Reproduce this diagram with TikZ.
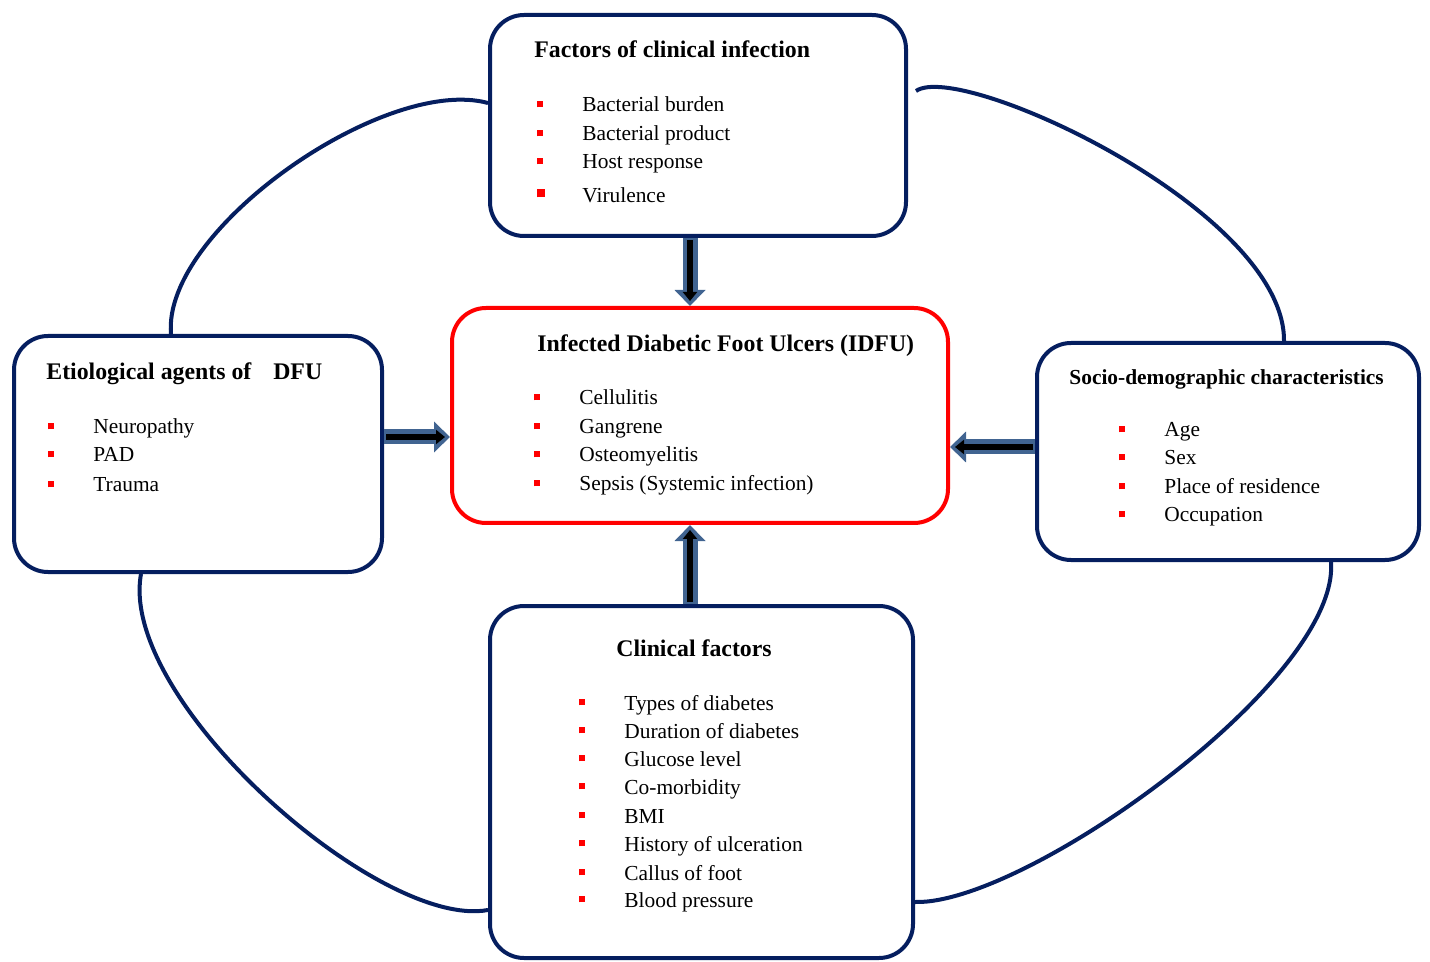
\documentclass[tikz,border=0pt]{standalone}
\usepackage{fontspec}
\setmainfont{Liberation Serif}
\usepackage{xcolor}
\usepackage{tikz}
\usetikzlibrary{positioning, arrows.meta, calc}

\definecolor{navy}{RGB}{5,30,95}
\definecolor{bulred}{RGB}{255,0,0}
\definecolor{arrowblue}{RGB}{65,100,145}

\newcommand{\redsq}{\makebox[22.5pt][l]{\textcolor{bulred}{\rule[2.3pt]{3pt}{3pt}}}}

\begin{document}
\begin{tikzpicture}[
    x=0.5pt, y=-0.5pt,
    box/.style={
        rectangle,
        rounded corners=17pt,
        draw=navy,
        line width=2pt
    },
    redbox/.style={
        box,
        draw=bulred
    },
    ttl/.style={
        anchor=base west,
        inner sep=0pt,
        font=\fontsize{11.9}{14}\selectfont\bfseries
    },
    itm/.style={
        anchor=base west,
        inner sep=0pt,
        font=\fontsize{10.7}{13}\selectfont
    },
    link/.style={
        draw=navy,
        line width=2pt
    },
    fatarrow/.style={
        draw=arrowblue,
        line width=7.5pt,
        -{Triangle[width=15pt,length=8pt]},
        postaction={draw=black, line width=3.2pt,
            -{Triangle[width=7pt,length=4.5pt]}, shorten >=2.5pt, shorten <=1pt}
    }
]
\useasboundingbox (0,0) rectangle (1430,962);

% Boxes

\node[box, minimum width=208pt, minimum height=110.5pt] (infect) at (698,125.5) {};
\node[redbox, minimum width=248pt, minimum height=107.5pt] (idfu) at (700,415.5) {};
\node[box, minimum width=184pt, minimum height=118pt] (etio) at (198,454) {};
\node[box, minimum width=191pt, minimum height=108.5pt] (socio) at (1228,451.5) {};
\node[box, minimum width=211.5pt, minimum height=176pt] (clin) at (701.5,782) {};

% Factors of clinical infection

\node[ttl] (infectT) at (534,58) {Factors of clinical infection};
\node[itm] (infect1) at (537,112) {\redsq Bacterial burden};
\node[itm] (infect2) at (537,141) {\redsq Bacterial product};
\node[itm] (infect3) at (537,169) {\redsq Host response};
\node[itm] (infect4) at (537,203) {\makebox[22.5pt][l]{\textcolor{bulred}{\rule[2.8pt]{4pt}{4pt}}}Virulence};

% Infected Diabetic Foot Ulcers

\node[ttl] (idfuT) at (537,352) {Infected Diabetic Foot Ulcers (IDFU)};
\node[itm] (idfu1) at (534,405) {\redsq Cellulitis};
\node[itm] (idfu2) at (534,434) {\redsq Gangrene};
\node[itm] (idfu3) at (534,462) {\redsq Osteomyelitis};
\node[itm] (idfu4) at (534,491) {\redsq Sepsis (Systemic infection)};

% Etiological agents

\node[ttl] (etioT) at (46,380) {Etiological agents of\hspace{8pt} DFU};
\node[itm] (etio1) at (48,434) {\redsq Neuropathy};
\node[itm] (etio2) at (48,462) {\redsq PAD};
\node[itm] (etio3) at (48,492) {\redsq Trauma};

% Socio-demographic characteristics

\node[ttl, font=\fontsize{10.7}{13}\selectfont\bfseries] (socioT) at (1069,385) {Socio-demographic characteristics};
\node[itm] (socio1) at (1119,437) {\redsq Age};
\node[itm] (socio2) at (1119,465) {\redsq Sex};
\node[itm] (socio3) at (1119,494) {\redsq Place of residence};
\node[itm] (socio4) at (1119,522) {\redsq Occupation};

% Clinical factors

\node[ttl, anchor=base] (clinT) at (694,656) {Clinical factors};
\node[itm] (clin1) at (579,710) {\redsq Types of diabetes};
\node[itm] (clin2) at (579,738) {\redsq Duration of diabetes};
\node[itm] (clin3) at (579,766) {\redsq Glucose level};
\node[itm] (clin4) at (579,794) {\redsq Co-morbidity};
\node[itm] (clin5) at (579,823) {\redsq BMI};
\node[itm] (clin6) at (579,851) {\redsq History of ulceration};
\node[itm] (clin7) at (579,880) {\redsq Callus of foot};
\node[itm] (clin8) at (579,907) {\redsq Blood pressure};

% Outer links

\draw[link] ($(etio.north)+(-27,0)$) .. controls (162,230) and (385,75) .. ($(infect.west)+(0,-22.5)$);
\draw[link] ($(infect.east)+(8,-34.5)$) .. controls (960,60) and (1285,210) .. ($(socio.north)+(56,0)$);
\draw[link] ($(socio.south)+(103,0)$) .. controls (1340,680) and (1025,905) .. ($(clin.east)+(0,120)$);
\draw[link] ($(etio.south)+(-57,0)$) .. controls (118,700) and (380,930) .. ($(clin.west)+(0,128)$);

% Arrows

\draw[fatarrow] ($(infect.south)+(-8,0)$) -- ($(idfu.north)+(-10,0)$);
\draw[fatarrow] ($(etio.east)+(0,-17)$) -- ($(idfu.west)+(0,21.5)$);
\draw[fatarrow] ($(socio.west)+(0,-4.5)$) -- ($(idfu.east)+(0,31.5)$);
\draw[fatarrow] ($(clin.north)+(-11.5,0)$) -- ($(idfu.south)+(-10,0)$);

\end{tikzpicture}
\end{document}
